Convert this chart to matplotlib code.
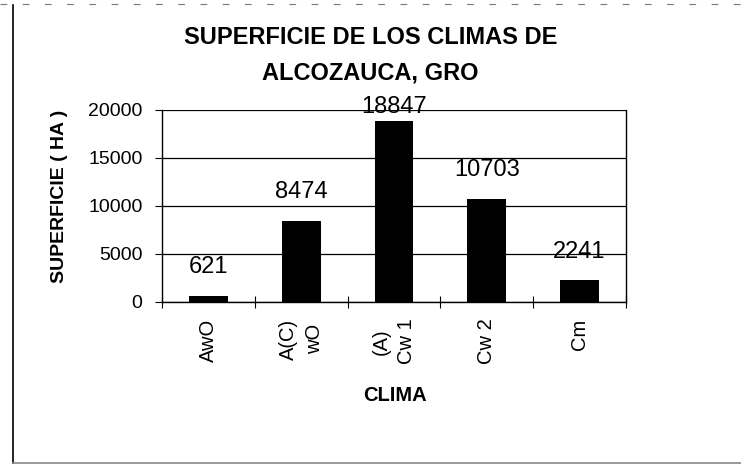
import matplotlib.pyplot as plt
from matplotlib.lines import Line2D
import numpy as np

# data
climas = ["AwO", "A(C)\nwO", "(A)\nCw 1", "Cw 2", "Cm"]
superficie = [621, 8474, 18847, 10703, 2241]
y_ticks = [0, 5000, 10000, 15000, 20000]

plt.rcParams['font.family'] = ['Liberation Sans', 'DejaVu Sans']

fig = plt.figure(figsize=(7.41, 4.65), dpi=100)
ax = fig.add_axes([162 / 741, 1 - 302 / 465, 464 / 741, 192 / 465])

x = np.arange(len(climas))
ax.bar(x, superficie, width=0.42, color="black", zorder=3)

ax.set_xlim(-0.5, len(climas) - 0.5)
ax.set_ylim(0, 20000)
ax.set_yticks(y_ticks)
ax.set_yticklabels([str(v) for v in y_ticks], fontsize=14)
ax.yaxis.grid(True, color="black", linewidth=0.9, zorder=0)
ax.tick_params(axis="y", length=5, width=0.8, pad=9)

# x ticks on category boundaries, labels on centres
ax.set_xticks(np.arange(len(climas) + 1) - 0.5)
ax.set_xticklabels([])
ax.set_xticks(x, minor=True)
ax.set_xticklabels(climas, minor=True, rotation=90, fontsize=14.5,
                   multialignment="center", linespacing=1.45)
ax.tick_params(axis="x", which="major", direction="inout", length=8, width=0.8)
ax.tick_params(axis="x", which="minor", length=0, pad=12)

ax.spines["top"].set_visible(False)
for side in ["left", "right", "bottom"]:
    ax.spines[side].set_linewidth(1.0)

# value labels above bars (clamped at the top like the original)
for xi, v in zip(x, superficie):
    ax.text(xi, min(v + 3000, 20300), str(v), ha="center", va="center", fontsize=17, zorder=4)

ax.set_ylabel("SUPERFICIE ( HA )", fontsize=14, fontweight="bold", va="center")
ax.yaxis.set_label_coords(-0.22, 0.55)
ax.set_xlabel("CLIMA", fontsize=14.5, fontweight="bold", va="top")
ax.xaxis.set_label_coords(0.502, -0.44)

fig.text(0.5, 1 - 37 / 465, "SUPERFICIE DE LOS CLIMAS DE", ha="center", va="center",
         fontsize=17, fontweight="bold")
fig.text(0.5, 1 - 73 / 465, "ALCOZAUCA, GRO", ha="center", va="center",
         fontsize=17, fontweight="bold")

# page border remnants
fig.add_artist(Line2D([13 / 741, 13 / 741], [1 - 5 / 465, 1 - 463 / 465], color="black", linewidth=1.2))
fig.add_artist(Line2D([13 / 741, 1], [1 - 463 / 465, 1 - 463 / 465], color="#888888", linewidth=1.2))
fig.add_artist(Line2D([0, 1], [1 - 4 / 465, 1 - 4 / 465], color="#777777", linewidth=0.8,
                      linestyle=(0, (6, 14))))

fig.savefig("out.png", dpi=100)
